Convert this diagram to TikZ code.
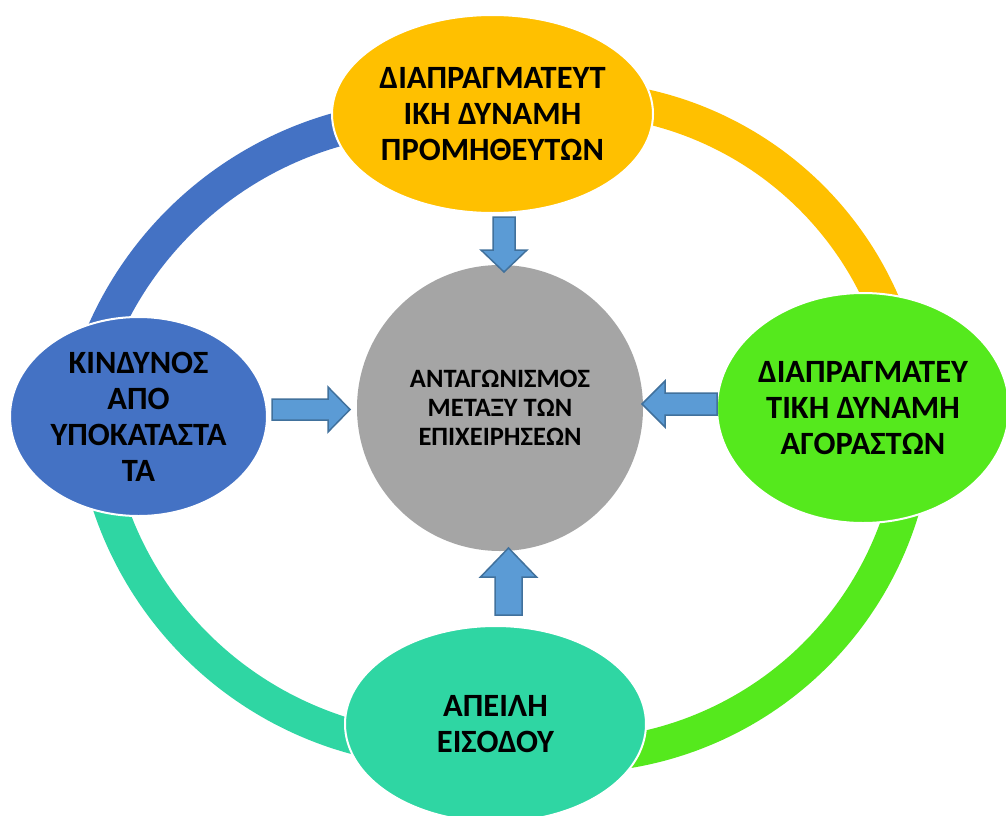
\documentclass[tikz,border=0pt]{standalone}
\usepackage{fontspec}
\setmainfont{Carlito}
\usetikzlibrary{shapes.geometric,calc}
\definecolor{cblue}{HTML}{4472C4}
\definecolor{cyellow}{HTML}{FFC000}
\definecolor{cgreen}{HTML}{55E91D}
\definecolor{cteal}{HTML}{2FD6A3}
\definecolor{cgray}{HTML}{A5A5A5}
\definecolor{arrowfill}{HTML}{5B9BD5}
\definecolor{arrowline}{HTML}{41719C}
\newcommand{\blockarr}[5]{%
  \coordinate (hb) at ($(#2)!#5!(#1)$);
  \draw[barrow] ($(#1)!#3!90:(#2)$) -- ($(hb)!#3!-90:(#1)$) -- ($(hb)!#4!-90:(#1)$) -- (#2)
    -- ($(hb)!#4!90:(#1)$) -- ($(hb)!#3!90:(#1)$) -- ($(#1)!#3!-90:(#2)$) -- cycle;}
\begin{document}
\begin{tikzpicture}[x=1pt,y=-1pt,
  bubble/.style={ellipse, draw=white, line width=2pt, inner sep=0pt},
  lbl/.style={align=center, font=\bfseries\fontsize{32.5}{36}\selectfont, text=black},
  band/.style={line width=34pt},
  barrow/.style={fill=arrowfill, draw=arrowline, line width=1.5pt, line join=miter}]
\useasboundingbox (0,0) rectangle (1006,816);
\clip (0,0) rectangle (1006,816);
\fill[white] (0,0) rectangle (1006,816);

% ring arcs
\draw[band, cblue]   plot[domain=200:258, samples=60] ({435+362*cos(\x)},{478+362*sin(\x)});
\draw[band, cyellow] plot[domain=-82:-18, samples=60] ({571+340*cos(\x)},{438+340*sin(\x)});
\draw[band, cgreen]  plot[domain=12:85, samples=60]   ({571+346*cos(\x)},{410+346*sin(\x)});
\draw[band, cteal]   plot[domain=100:166, samples=60] ({449+358*cos(\x)},{392+358*sin(\x)});

% outer nodes
\node[bubble, fill=cyellow, minimum width=321pt, minimum height=198pt,
  label={[lbl]center:{ΔΙΑΠΡΑΓΜΑΤΕΥΤ\\ΙΚΗ ΔΥΝΑΜΗ\\ΠΡΟΜΗΘΕΥΤΩΝ}}] (sup) at (492.5,114) {};
\node[bubble, fill=cblue, minimum width=257pt, minimum height=199pt,
  label={[lbl]center:{ΚΙΝΔΥΝΟΣ\\ΑΠΟ\\ΥΠΟΚΑΤΑΣΤΑ\\ΤΑ}}] (sub) at (138.5,416.5) {};
\node[bubble, fill=cgreen, minimum width=292pt, minimum height=230pt,
  label={[lbl]center:{ΔΙΑΠΡΑΓΜΑΤΕΥ\\ΤΙΚΗ ΔΥΝΑΜΗ\\ΑΓΟΡΑΣΤΩΝ}}] (buy) at (863,408) {};
\node[bubble, fill=cteal, minimum width=301pt, minimum height=196pt,
  label={[lbl]center:{ΑΠΕΙΛΗ\\ΕΙΣΟΔΟΥ}}] (ent) at (495.5,724) {};

% centre
\node[circle, fill=cgray, minimum size=286pt, inner sep=0pt, align=center,
  font=\bfseries\fontsize{26.5}{29}\selectfont] (core) at (500,408)
  {ΑΝΤΑΓΩΝΙΣΜΟΣ\\ΜΕΤΑΞΥ ΤΩΝ\\ΕΠΙΧΕΙΡΗΣΕΩΝ};

% block arrows
\coordinate (a1t) at (504,217);   \coordinate (a1p) at (504,272);
\coordinate (a2t) at (272,409.5); \coordinate (a2p) at (350,409.5);
\coordinate (a3t) at (717,404);   \coordinate (a3p) at (642,404);
\coordinate (a4t) at (508.5,615); \coordinate (a4p) at (508.5,548);
\blockarr{a1t}{a1p}{11pt}{23pt}{22pt}
\blockarr{a2t}{a2p}{10.5pt}{22.5pt}{22pt}
\blockarr{a3t}{a3p}{11pt}{23pt}{23pt}
\blockarr{a4t}{a4p}{13.5pt}{28pt}{29pt}
\end{tikzpicture}
\end{document}
